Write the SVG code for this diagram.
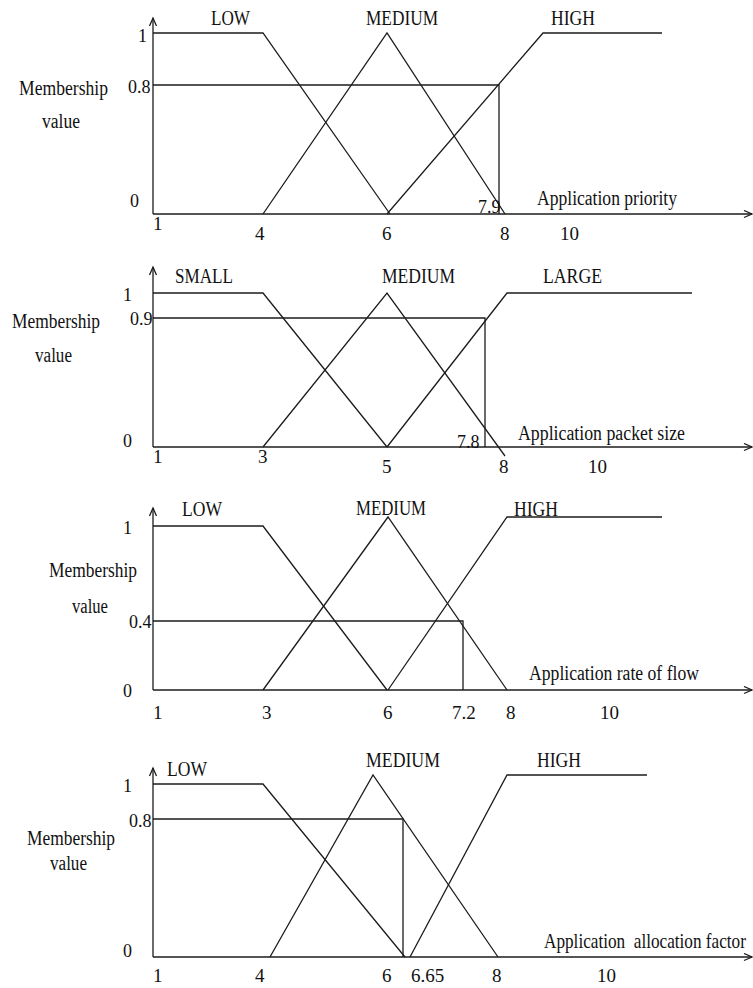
<svg xmlns="http://www.w3.org/2000/svg" width="753" height="988" viewBox="0 0 753 988">
<style>
.ln{stroke:#1c1c1c;stroke-width:1.3;fill:none}
.t{font-family:"Liberation Serif","Times New Roman",serif;font-size:20px;fill:#111}
.n{font-family:"Liberation Serif","Times New Roman",serif;font-size:19px;fill:#111}
.v{font-family:"Liberation Serif","Times New Roman",serif;font-size:18px;fill:#111}
</style>
<defs>
<marker id="arr" markerUnits="userSpaceOnUse" markerWidth="12" markerHeight="10" refX="9" refY="4" orient="auto" viewBox="0 0 12 10">
<path d="M1,0.5 L9,4 L1,7.5" fill="none" stroke="#1c1c1c" stroke-width="1.3"/>
</marker>
</defs>
<rect width="753" height="988" fill="#fff"/>

<g id="panel1">
<g id="p1-connectors">
<path class="ln" d="M153,214 L153,18" marker-end="url(#arr)"/>
<path class="ln" d="M153,214 L752,214" marker-end="url(#arr)"/>
<path class="ln" d="M153,33 L263,33 L390,214"/>
<path class="ln" d="M263,214 L387,33 L505,214"/>
<path class="ln" d="M387,214 L543,33 L662,33"/>
<path class="ln" d="M153,85 L499,85 L499,214"/>
</g>
<text class="t" x="211" y="25" textLength="39" lengthAdjust="spacingAndGlyphs">LOW</text>
<text class="t" x="366" y="25" textLength="72" lengthAdjust="spacingAndGlyphs">MEDIUM</text>
<text class="t" x="551" y="25" textLength="44" lengthAdjust="spacingAndGlyphs">HIGH</text>
<text class="t" x="19" y="95" textLength="89" lengthAdjust="spacingAndGlyphs">Membership</text>
<text class="t" x="42" y="128" textLength="38" lengthAdjust="spacingAndGlyphs">value</text>
<text class="v" x="138" y="42">1</text>
<text class="v" x="128" y="93">0.8</text>
<text class="v" x="130" y="207">0</text>
<text class="v" x="478" y="213">7.9</text>
<text class="t" x="537" y="205" textLength="140" lengthAdjust="spacingAndGlyphs">Application priority</text>
<text class="n" x="153" y="230">1</text>
<text class="n" x="255" y="240">4</text>
<text class="n" x="382" y="240">6</text>
<text class="n" x="500" y="240">8</text>
<text class="n" x="560" y="240">10</text>
</g>

<g id="panel2">
<g id="p2-connectors">
<path class="ln" d="M153,447 L153,267" marker-end="url(#arr)"/>
<path class="ln" d="M153,447 L752,447" marker-end="url(#arr)"/>
<path class="ln" d="M153,293 L263,293 L387,447"/>
<path class="ln" d="M263,447 L387,293 L505,456"/>
<path class="ln" d="M387,447 L507,293 L692,293"/>
<path class="ln" d="M153,318 L485,318 L485,447"/>
</g>
<text class="t" x="175" y="283" textLength="58" lengthAdjust="spacingAndGlyphs">SMALL</text>
<text class="t" x="382" y="283" textLength="73" lengthAdjust="spacingAndGlyphs">MEDIUM</text>
<text class="t" x="543" y="283" textLength="59" lengthAdjust="spacingAndGlyphs">LARGE</text>
<text class="t" x="12" y="328" textLength="88" lengthAdjust="spacingAndGlyphs">Membership</text>
<text class="t" x="35" y="362" textLength="37" lengthAdjust="spacingAndGlyphs">value</text>
<text class="v" x="123" y="301">1</text>
<text class="v" x="130" y="325">0.9</text>
<text class="v" x="123" y="447">0</text>
<text class="v" x="457" y="448">7.8</text>
<text class="t" x="518" y="440" textLength="167" lengthAdjust="spacingAndGlyphs">Application packet size</text>
<text class="n" x="153" y="463">1</text>
<text class="n" x="258" y="463">3</text>
<text class="n" x="382" y="473">5</text>
<text class="n" x="499" y="473">8</text>
<text class="n" x="588" y="473">10</text>
</g>

<g id="panel3">
<g id="p3-connectors">
<path class="ln" d="M153,690 L153,508" marker-end="url(#arr)"/>
<path class="ln" d="M153,690 L752,690" marker-end="url(#arr)"/>
<path class="ln" d="M153,526 L263,526 L387,690"/>
<path class="ln" d="M263,690 L388,517 L507,690"/>
<path class="ln" d="M388,690 L507,517 L662,517"/>
<path class="ln" d="M153,621 L463,621 L463,690"/>
</g>
<text class="t" x="182" y="516" textLength="40" lengthAdjust="spacingAndGlyphs">LOW</text>
<text class="t" x="356" y="515" textLength="70" lengthAdjust="spacingAndGlyphs">MEDIUM</text>
<text class="t" x="514" y="516" textLength="44" lengthAdjust="spacingAndGlyphs">HIGH</text>
<text class="t" x="49" y="577" textLength="88" lengthAdjust="spacingAndGlyphs">Membership</text>
<text class="t" x="72" y="613" textLength="36" lengthAdjust="spacingAndGlyphs">value</text>
<text class="v" x="123" y="534">1</text>
<text class="v" x="129" y="628">0.4</text>
<text class="v" x="123" y="697">0</text>
<text class="t" x="529" y="680" textLength="170" lengthAdjust="spacingAndGlyphs">Application rate of flow</text>
<text class="n" x="153" y="719">1</text>
<text class="n" x="262" y="719">3</text>
<text class="n" x="383" y="719">6</text>
<text class="n" x="452" y="719">7.2</text>
<text class="n" x="506" y="719">8</text>
<text class="n" x="600" y="719">10</text>
</g>

<g id="panel4">
<g id="p4-connectors">
<path class="ln" d="M153,957 L153,768" marker-end="url(#arr)"/>
<path class="ln" d="M153,957 L752,957" marker-end="url(#arr)"/>
<path class="ln" d="M153,784 L263,784 L405,957"/>
<path class="ln" d="M270,957 L373,775 L498,957"/>
<path class="ln" d="M410,957 L507,775 L647,775"/>
<path class="ln" d="M153,819 L403,819 L403,957"/>
</g>
<text class="t" x="167" y="776" textLength="40" lengthAdjust="spacingAndGlyphs">LOW</text>
<text class="t" x="366" y="767" textLength="74" lengthAdjust="spacingAndGlyphs">MEDIUM</text>
<text class="t" x="537" y="767" textLength="44" lengthAdjust="spacingAndGlyphs">HIGH</text>
<text class="t" x="27" y="845" textLength="88" lengthAdjust="spacingAndGlyphs">Membership</text>
<text class="t" x="50" y="870" textLength="37" lengthAdjust="spacingAndGlyphs">value</text>
<text class="v" x="123" y="792">1</text>
<text class="v" x="129" y="827">0.8</text>
<text class="v" x="123" y="957">0</text>
<text class="t" transform="translate(544,948) scale(0.86,1)" x="0" y="0" style="white-space:pre">Application  allocation factor</text>
<text class="n" x="153" y="982">1</text>
<text class="n" x="255" y="982">4</text>
<text class="n" x="382" y="982">6</text>
<text class="n" x="411" y="982">6.65</text>
<text class="n" x="492" y="982">8</text>
<text class="n" x="597" y="982">10</text>
</g>
</svg>
